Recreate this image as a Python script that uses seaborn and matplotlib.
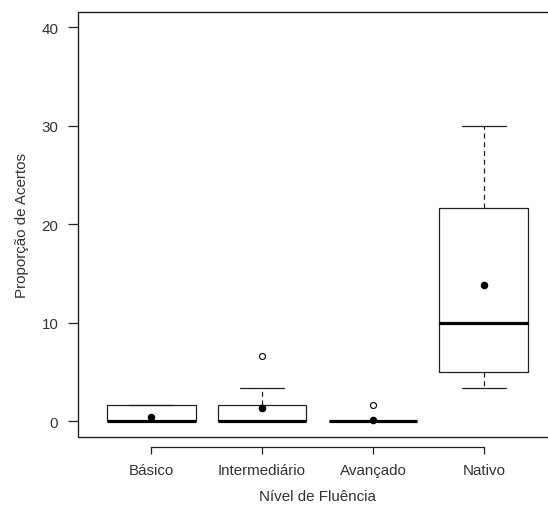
import matplotlib
matplotlib.use("Agg")
import matplotlib.pyplot as plt
from matplotlib.patches import Rectangle
import seaborn as sns

# Summary statistics per fluency level
categories = ["Básico", "Intermediário", "Avançado", "Nativo"]
whisker_low = [0.0, 0.0, 0.0, 3.33]
q1 = [0.0, 0.0, 0.0, 5.0]
medians = [0.0, 0.0, 0.0, 10.0]
q3 = [1.67, 1.67, 0.0, 21.67]
whisker_high = [1.67, 3.33, 0.0, 30.0]
outliers = [[], [6.67], [1.67], []]
means = [0.45, 1.3, 0.17, 13.85]
yticks = [0, 10, 20, 30, 40]

sns.set_style("ticks")
plt.rcParams["font.family"] = ["Liberation Sans", "DejaVu Sans"]

FS = 10.9
INK = "#222222"

fig = plt.figure(figsize=(5.48, 5.06), dpi=100)
ax = fig.add_axes([78 / 548, 68 / 506, 479 / 548, 425.5 / 506])

stats = []
for i, name in enumerate(categories):
    stats.append(dict(label=name, whislo=whisker_low[i], q1=q1[i], med=medians[i],
                      q3=q3[i], whishi=whisker_high[i], fliers=outliers[i]))

positions = list(range(len(categories)))
ax.bxp(stats, positions=positions, widths=0.8, showfliers=True, patch_artist=True,
       boxprops=dict(facecolor="white", edgecolor=INK, linewidth=0.9),
       medianprops=dict(color="black", linewidth=2.3, solid_capstyle="butt"),
       whiskerprops=dict(color=INK, linewidth=0.9, linestyle=(0, (4, 3))),
       capprops=dict(color=INK, linewidth=0.9),
       capwidths=0.4,
       flierprops=dict(marker="o", markerfacecolor="white", markeredgecolor="black",
                       markersize=4.3, markeredgewidth=0.8),
       zorder=2)

# Group means as filled dots
sns.pointplot(x=categories, y=means, ax=ax, color="black", linestyle="none",
              markers="o", markersize=3.4, errorbar=None, zorder=5)

ax.set_xlim(-0.66, 3.66)
ax.set_ylim(-1.6, 41.6)
ax.set_xticks(positions)
ax.set_xticklabels(categories)
ax.set_yticks(yticks)
ax.set_yticklabels([str(v) for v in yticks])

# Frame around the plotting region
ax.add_patch(Rectangle((0, 0), 1, 1, transform=ax.transAxes, fill=False,
                       edgecolor=INK, linewidth=1.0, clip_on=False, zorder=6))
for s in ["top", "right"]:
    ax.spines[s].set_visible(False)
ax.spines["left"].set_visible(False)
ax.spines["bottom"].set_position(("outward", 7))
ax.spines["bottom"].set_bounds(0, 3)
ax.spines["bottom"].set_color(INK)
ax.spines["bottom"].set_linewidth(0.9)

ax.tick_params(axis="y", length=7.2, width=0.9, pad=7, labelsize=FS,
               color=INK, labelcolor="#333333")
ax.tick_params(axis="x", length=5, width=0.9, pad=7, labelsize=FS,
               color=INK, labelcolor="#333333")

ax.set_xlabel("Nível de Fluência", fontsize=FS, color="#333333", labelpad=8.5)
ax.set_ylabel("Proporção de Acertos", fontsize=FS, color="#333333", labelpad=9)
ax.grid(False)

fig.savefig("out.png", dpi=100)
